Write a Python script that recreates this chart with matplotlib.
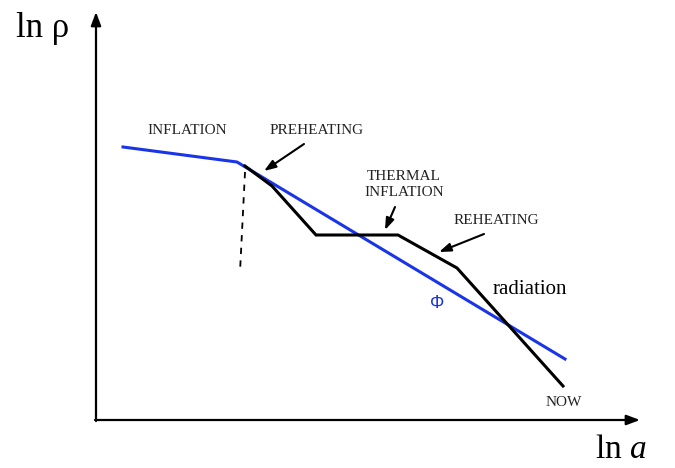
import matplotlib
matplotlib.use("Agg")
import matplotlib.pyplot as plt

plt.rcParams["mathtext.fontset"] = "custom"
plt.rcParams["mathtext.rm"] = "Liberation Serif"
plt.rcParams["mathtext.it"] = "Liberation Serif:italic"

# Schematic coordinates (ln a, ln rho) in arbitrary units (screen-like, y downwards)
phi_x = [123, 237, 565]
phi_y = [147, 162, 359]

rho_x = [245, 272, 316, 398, 457, 563]
rho_y = [166, 186, 235, 235, 268, 386]

dash_x = [245, 240]
dash_y = [172, 272]

axis_origin = (96, 420)
x_axis_end = 640
y_axis_end = 12

labels = ["INFLATION", "PREHEATING", "THERMAL\nINFLATION", "REHEATING", "NOW"]
label_x = [187, 317, 404, 496, 564]
label_y = [131, 130, 185, 221, 403]

arrows_from = [(304, 144), (395, 207), (484, 234)]
arrows_to = [(264, 171), (385, 230), (439, 252)]

fig = plt.figure(figsize=(6.75, 4.68), dpi=100)
ax = fig.add_axes([0, 0, 1, 1])
ax.set_xlim(0, 675)
ax.set_ylim(468, 0)
ax.axis("off")

serif = ["Liberation Serif", "DejaVu Serif"]

# axes arrows
ox, oy = axis_origin
ax.annotate("", xy=(x_axis_end, oy), xytext=(ox - 1, oy),
            arrowprops=dict(arrowstyle="-|>,head_length=0.8,head_width=0.3", lw=1.6, color="black",
                            shrinkA=0, shrinkB=0))
ax.annotate("", xy=(ox, y_axis_end), xytext=(ox, oy + 1),
            arrowprops=dict(arrowstyle="-|>,head_length=0.8,head_width=0.3", lw=1.6, color="black",
                            shrinkA=0, shrinkB=0))

# curves
ax.plot(dash_x, dash_y, color="black", lw=1.3, ls=(0, (3.5, 3.5)))
ax.plot(phi_x, phi_y, color="#1a35e8", lw=2.2, solid_joinstyle="miter")
ax.plot(rho_x, rho_y, color="black", lw=2.2, solid_joinstyle="miter")

# labels
for t, x, y in zip(labels, label_x, label_y):
    ax.text(x, y, t, fontsize=11, family=serif, ha="center", va="center",
            color="#222222", linespacing=1.3)

for (x0, y0), (x1, y1) in zip(arrows_from, arrows_to):
    ax.annotate("", xy=(x1, y1), xytext=(x0, y0),
                arrowprops=dict(arrowstyle="-|>,head_length=0.7,head_width=0.25", lw=1.5,
                                color="black", shrinkA=0, shrinkB=0))

ax.text(530, 289, "radiation", fontsize=15, family=serif, ha="center", va="center")
ax.text(437, 304, "Φ", fontsize=13, family=["Liberation Sans", "DejaVu Sans"],
        ha="center", va="center", color="#1a35e8")

ax.text(43, 37, "ln ρ", fontsize=25, family=serif, ha="center", va="baseline")
ax.text(621, 458, r"ln $a$", fontsize=24, family=serif, ha="center", va="baseline")

fig.savefig("out.png", dpi=100)
